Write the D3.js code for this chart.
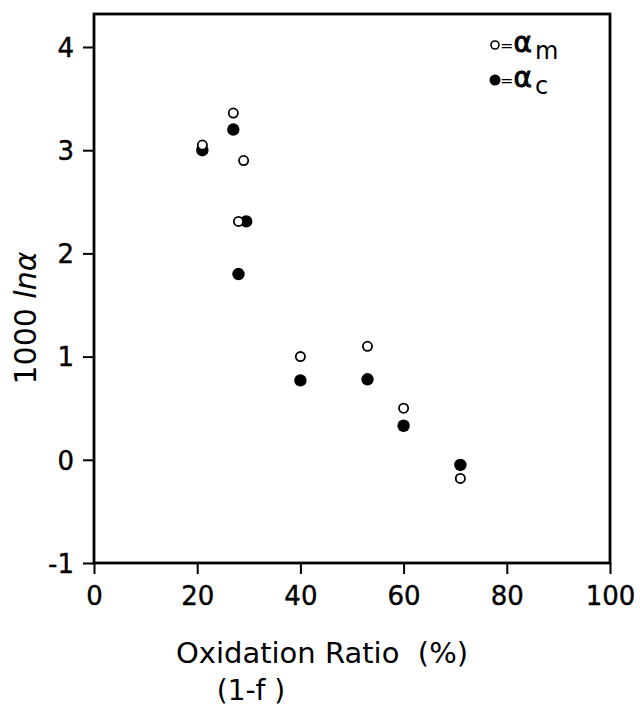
<!DOCTYPE html>
<html>
<head>
<meta charset="utf-8">
<script src="https://cdn.jsdelivr.net/npm/d3@7"></script>
<style>
	body { margin: 0; background: #fff; }
	svg { display: block; }
	text { font-family: "DejaVu Sans", sans-serif; fill: #000; }
</style>
</head>
<body>
<svg id="chart"></svg>
<script>
// oxidation ratio (%) and 1000 ln alpha values
const ratio = [21, 27, 29, 28, 40, 53, 60, 71];
const alphaM = [3.05, 3.36, 2.9, 2.31, 1.0, 1.1, 0.5, -0.18];
const ratioC = [21, 27, 29.5, 28, 40, 53, 60, 71];
const alphaC = [3.0, 3.2, 2.31, 1.8, 0.77, 0.78, 0.33, -0.05];
const xTicks = [0, 20, 40, 60, 80, 100];
const yTicks = [-1, 0, 1, 2, 3, 4];

const width = 640, height = 706;
const svg = d3.select('#chart').attr('width', width).attr('height', height);

const x = d3.scaleLinear().domain([0, 100]).range([94, 610]);
const y = d3.scaleLinear().domain([-1, 4]).range([563, 47]);
const yTop = y.invert(14);

// frame
svg.append('rect')
	.attr('x', x(0)).attr('y', y(yTop))
	.attr('width', x(100) - x(0)).attr('height', y(-1) - y(yTop))
	.attr('fill', 'none').attr('stroke', '#000').attr('stroke-width', 2.8)

const xAxis = svg.append('g')
	.attr('transform', `translate(0,${y(-1)})`)
	.call(d3.axisBottom(x).tickValues(xTicks).tickSize(11).tickPadding(13).tickFormat(d => String(d)))
xAxis.select('.domain').remove()
xAxis.selectAll('line').attr('stroke-width', 2)
xAxis.selectAll('text').attr('font-size', 26).attr('font-family', '"DejaVu Sans", sans-serif')
	.attr('stroke', '#000').attr('stroke-width', 0.4)

const yAxis = svg.append('g')
	.attr('transform', `translate(${x(0)},0)`)
	.call(d3.axisLeft(y).tickValues(yTicks).tickSize(11).tickPadding(9).tickFormat(d => String(d)))
yAxis.select('.domain').remove()
yAxis.selectAll('line').attr('stroke-width', 2)
yAxis.selectAll('text').attr('font-size', 26).attr('font-family', '"DejaVu Sans", sans-serif').attr('dy', '0.36em')
	.attr('stroke', '#000').attr('stroke-width', 0.4)

// points
svg.append('g').selectAll('circle')
	.data(ratioC.map((r, i) => ({r: r, v: alphaC[i]})))
	.enter().append('circle')
		.attr('cx', d => x(d.r))
		.attr('cy', d => y(d.v))
		.attr('r', 6.2)
		.attr('fill', '#000')

svg.append('g').selectAll('circle')
	.data(ratio.map((r, i) => ({r: r, v: alphaM[i]})))
	.enter().append('circle')
		.attr('cx', d => x(d.r))
		.attr('cy', d => y(d.v))
		.attr('r', 4.6)
		.attr('fill', '#fff')
		.attr('stroke', '#000')
		.attr('stroke-width', 1.8)

// legend
const legend = svg.append('g').attr('transform', 'translate(495,45)')
legend.append('circle').attr('r', 4).attr('fill', '#fff').attr('stroke', '#000').attr('stroke-width', 1.6)
legend.append('circle').attr('cy', 35).attr('r', 5.5).attr('fill', '#000')
;[['m', 0], ['c', 35]].forEach(([s, dy]) => {
	const t = legend.append('text').attr('x', 5).attr('y', dy + 7).attr('font-size', 24)
	t.append('tspan').attr('font-size', 16).attr('dy', -1).text('=')
	t.append('tspan').attr('dy', 1).attr('font-size', 28).attr('stroke', '#000').attr('stroke-width', 0.9).text('α')
	t.append('tspan').attr('dx', 3).attr('dy', 7).text(s)
})

// axis titles
svg.append('text')
	.attr('x', 322).attr('y', 663)
	.attr('text-anchor', 'middle').attr('font-size', 29)
	.attr('xml:space', 'preserve')
	.text('Oxidation Ratio  (%)')
svg.append('text')
	.attr('x', 251).attr('y', 700)
	.attr('text-anchor', 'middle').attr('font-size', 28)
	.text('(1-f )')

svg.append('text')
	.attr('transform', 'translate(36,318) rotate(-90)')
	.attr('text-anchor', 'middle').attr('font-size', 30)
	.call(t => {
		t.append('tspan').text('1000 ')
		t.append('tspan').attr('font-style', 'italic').text('ln')
		t.append('tspan').attr('font-style', 'italic').text('α')
	})
</script>
</body>
</html>
